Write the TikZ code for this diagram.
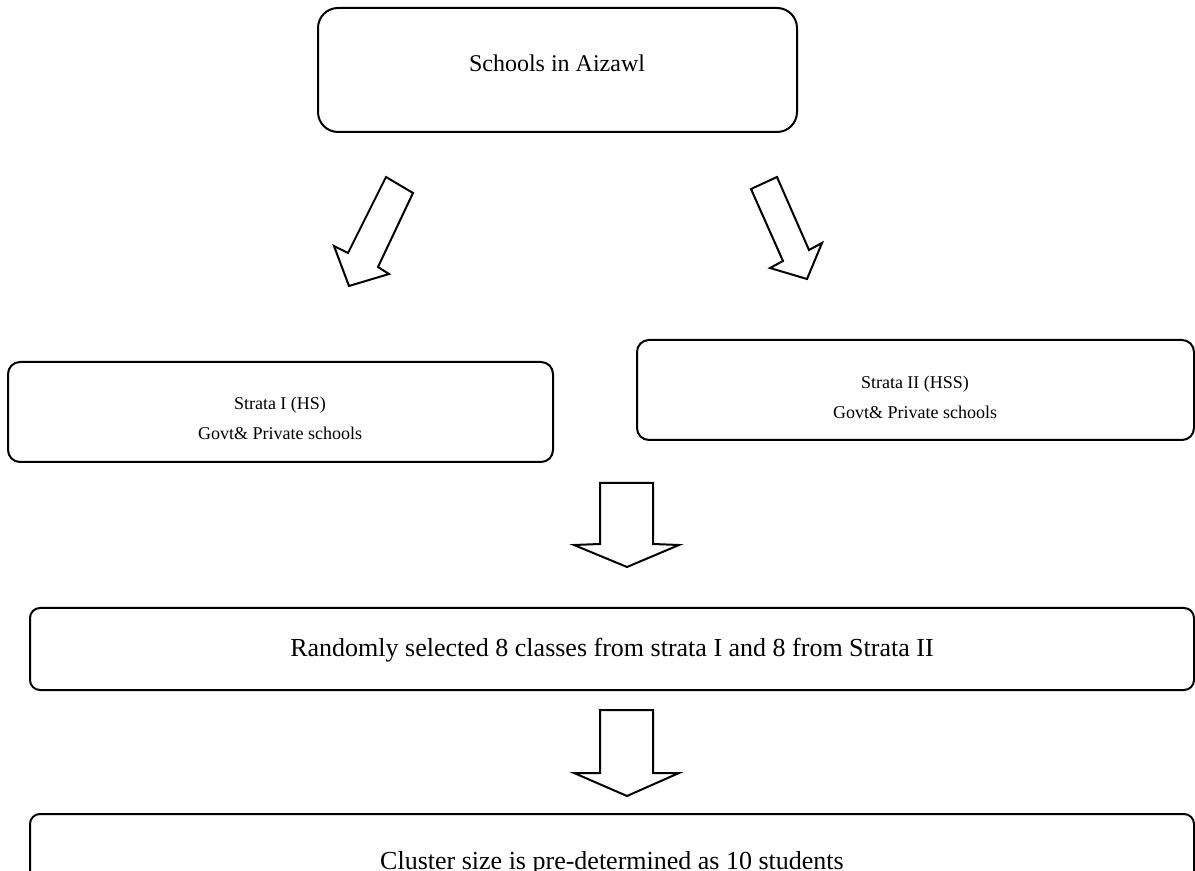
\documentclass[tikz,border=0pt]{standalone}
\usepackage{fontspec}
\setmainfont{Liberation Serif}
\begin{document}
\begin{tikzpicture}[x=0.5pt,y=-0.5pt,
  box/.style={draw=black,line width=1pt,fill=white,inner sep=0pt,outer sep=0pt},
  blockarrow/.style={draw=black,line width=1pt,fill=white,line join=miter},
  txtbig/.style={font=\fontsize{13}{15}\selectfont,inner sep=0pt},
  txtmid/.style={font=\fontsize{12}{14}\selectfont,inner sep=0pt},
  txtsmall/.style={font=\fontsize{9}{15}\selectfont,align=center,inner sep=0pt}]
\useasboundingbox (0,0) rectangle (1195,871);
\clip (0,0) rectangle (1195,871);

% boxes
\node[box,rounded corners=10pt,minimum width=239.5pt,minimum height=62pt] (top) at (557.5,70) {};
\node[box,rounded corners=6pt,minimum width=272.5pt,minimum height=50pt] (s1) at (280.5,412) {};
\node[box,rounded corners=6pt,minimum width=278.5pt,minimum height=50pt] (s2) at (915.5,390) {};
\node[box,rounded corners=5pt,minimum width=582pt,minimum height=41pt] (rand) at (612,649) {};
\node[box,rounded corners=5pt,minimum width=582pt,minimum height=60pt] (clus) at (612,874) {};

% texts
\node[txtmid] (ttop) at (557,63) {Schools in Aizawl};
\node[txtsmall] (ts1) at (280,418) {Strata I (HS)\\Govt\& Private schools};
\node[txtsmall] (ts2) at (915,397) {Strata II (HSS)\\Govt\& Private schools};
\node[txtbig] (trand) at (612,650) {Randomly selected 8 classes from strata I and 8 from Strata II};
\node[txtbig,anchor=base] (tclus) at (612,869) {Cluster size is pre-determined as 10 students};

% block arrows
\draw[blockarrow] (386,177) -- (413,193) -- (378,267) -- (389,274) -- (349,286) -- (334,246) -- (348,253) -- cycle;
\draw[blockarrow] (751,189) -- (777,177) -- (809,250) -- (822,243) -- (807,279) -- (770,268) -- (783,261) -- cycle;
\draw[blockarrow] (600,483) -- (653,483) -- (653,544) -- (679,545) -- (627,567) -- (574,545) -- (600,544) -- cycle;
\draw[blockarrow] (600,710) -- (653,710) -- (653,773) -- (679,773) -- (627,796) -- (574,773) -- (600,773) -- cycle;
\end{tikzpicture}
\end{document}
